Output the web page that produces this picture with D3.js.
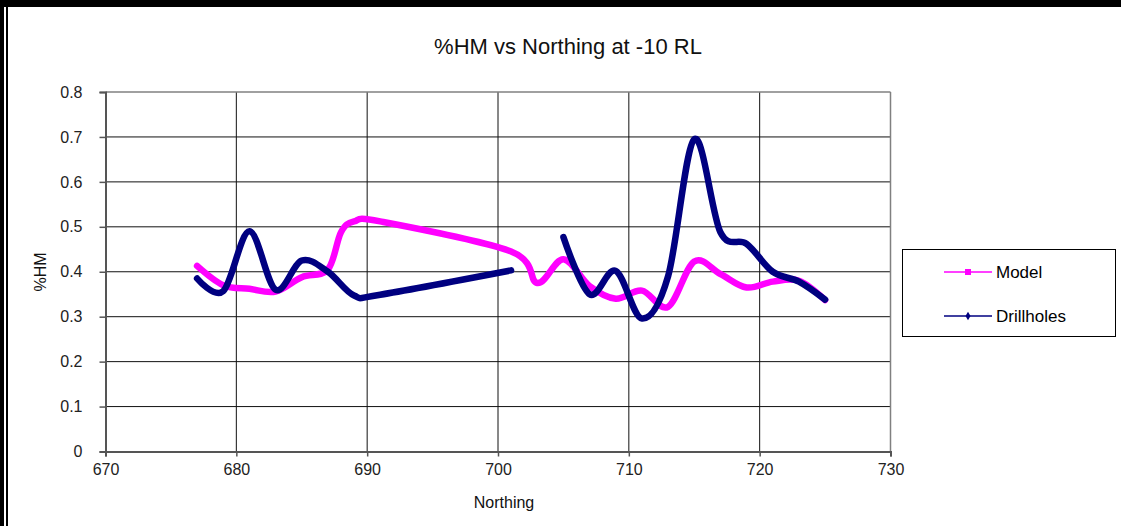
<!DOCTYPE html>
<html>
<head>
<meta charset="utf-8">
<script src="https://cdn.jsdelivr.net/npm/d3@7"></script>
<style>
  html, body { margin: 0; padding: 0; background: #fff; }
  svg { display: block; font-family: "Liberation Sans", Arial, sans-serif; }
</style>
</head>
<body>
<svg id="chart" width="1121" height="526"></svg>
<script>
// %HM along Northing at -10 RL: block model vs drillhole composites
const modelNorthing = [677, 679, 681, 683, 685, 687, 688, 689, 691, 701, 703, 705, 707, 709, 711, 713, 715, 717, 719, 721, 723, 725];
const modelHM       = [0.413, 0.370, 0.362, 0.356, 0.388, 0.405, 0.488, 0.512, 0.512, 0.445, 0.375, 0.428, 0.368, 0.340, 0.358, 0.322, 0.423, 0.395, 0.365, 0.378, 0.380, 0.337];

const drillNorthing = [677, 679, 681, 683, 685, 687, 689, 691, 701, 703, 705, 707, 709, 711, 713, 715, 717, 719, 721, 723, 725];
const drillHM       = [0.385, 0.357, 0.490, 0.360, 0.425, 0.400, 0.347, 0.349, 0.403, null, 0.477, 0.350, 0.402, 0.296, 0.390, 0.695, 0.488, 0.462, 0.400, 0.378, 0.338];

const xTicks = [670, 680, 690, 700, 710, 720, 730];
const yTicks = [0, 0.1, 0.2, 0.3, 0.4, 0.5, 0.6, 0.7, 0.8];

const seriesNames = ["Model", "Drillholes"];
const seriesColors = ["#ff00ff", "#000080"];

const svg = d3.select("#chart");
const W = 1121, H = 526;
const plot = { left: 105.5, right: 890.5, top: 92, bottom: 451.5 };

svg.append("rect").attr("width", W).attr("height", H).attr("fill", "#fff");

// outer frame: heavy top rule and double rule down the left side
svg.append("rect").attr("x", 0).attr("y", 0).attr("width", W).attr("height", 7).attr("fill", "#000");
svg.append("rect").attr("x", 0).attr("y", 0).attr("width", 4).attr("height", H).attr("fill", "#000");
svg.append("rect").attr("x", 6).attr("y", 7).attr("width", 2).attr("height", H).attr("fill", "#000");

const x = d3.scaleLinear().domain([670, 730]).range([plot.left, plot.right]);
const y = d3.scaleLinear().domain([0, 0.8]).range([plot.bottom, plot.top]);

// grid
const grid = svg.append("g");
grid.selectAll("line.v").data(xTicks.slice(1, -1)).join("line")
  .attr("x1", d => x(d)).attr("x2", d => x(d))
  .attr("y1", plot.top).attr("y2", plot.bottom)
  .attr("stroke", "#111").attr("stroke-width", 1);
grid.selectAll("line.h").data(yTicks.slice(1, -1)).join("line")
  .attr("x1", plot.left).attr("x2", plot.right)
  .attr("y1", d => y(d)).attr("y2", d => y(d))
  .attr("stroke", "#111").attr("stroke-width", 1);

// plot area frame (top / right)
svg.append("line").attr("x1", plot.left).attr("x2", plot.right).attr("y1", plot.top).attr("y2", plot.top)
  .attr("stroke", "#808080").attr("stroke-width", 1.5);
svg.append("line").attr("x1", plot.right).attr("x2", plot.right).attr("y1", plot.top).attr("y2", plot.bottom)
  .attr("stroke", "#808080").attr("stroke-width", 1.5);

// axes
const yAxis = svg.append("g").attr("transform", `translate(${plot.left},0)`)
  .call(d3.axisLeft(y).tickValues(yTicks).tickFormat(d => d === 0 ? "0" : d3.format(".1f")(d)).tickSize(6).tickPadding(17));
const xAxis = svg.append("g").attr("transform", `translate(0,${plot.bottom})`)
  .call(d3.axisBottom(x).tickValues(xTicks).tickFormat(d3.format("d")).tickSize(5).tickPadding(7));

[yAxis, xAxis].forEach(a => {
  a.select(".domain").attr("stroke", "#555").attr("stroke-width", 2);
  a.selectAll(".tick line").attr("stroke", "#555").attr("stroke-width", 1.5);
  a.selectAll(".tick text").attr("fill", "#222").attr("font-size", 16)
    .attr("font-family", "'Liberation Sans', Arial, sans-serif");
});

// titles
svg.append("text").attr("x", 568).attr("y", 54).attr("text-anchor", "middle")
  .attr("font-size", 22).attr("fill", "#111").text("%HM vs Northing at -10 RL");
svg.append("text").attr("x", 504).attr("y", 508).attr("text-anchor", "middle")
  .attr("font-size", 16).attr("fill", "#111").text("Northing");
svg.append("text").attr("transform", "translate(46,272) rotate(-90)").attr("text-anchor", "middle")
  .attr("font-size", 16).attr("fill", "#111").text("%HM");

// series (smoothed)
const line = d3.line()
  .defined(d => d[1] !== null)
  .x(d => x(d[0])).y(d => y(d[1]))
  .curve(d3.curveCardinal.tension(0));

const seriesData = [
  d3.zip(modelNorthing, modelHM),
  d3.zip(drillNorthing, drillHM)
];

svg.append("g").selectAll("path").data(seriesData).join("path")
  .attr("d", line)
  .attr("fill", "none")
  .attr("stroke", (d, i) => seriesColors[i])
  .attr("stroke-width", 6.5)
  .attr("stroke-linejoin", "round")
  .attr("stroke-linecap", "round");

// legend
const lg = svg.append("g");
lg.append("rect").attr("x", 902.5).attr("y", 249.5).attr("width", 213).attr("height", 87)
  .attr("fill", "#fff").attr("stroke", "#000").attr("stroke-width", 1);
const rows = [272, 316];
seriesNames.forEach((name, i) => {
  const gy = rows[i];
  lg.append("line").attr("x1", 944).attr("x2", 992).attr("y1", gy).attr("y2", gy)
    .attr("stroke", seriesColors[i]).attr("stroke-width", 1.5);
  if (i === 0) {
    lg.append("rect").attr("x", 965).attr("y", gy - 3).attr("width", 6).attr("height", 6).attr("fill", seriesColors[i]);
  } else {
    lg.append("path").attr("d", d3.symbol(d3.symbolDiamond, 22)()).attr("transform", `translate(968,${gy})`).attr("fill", seriesColors[i]);
  }
  lg.append("text").attr("x", 996).attr("y", gy).attr("dy", "0.35em")
    .attr("font-size", 17).attr("fill", "#000").text(name);
});
</script>
</body>
</html>
